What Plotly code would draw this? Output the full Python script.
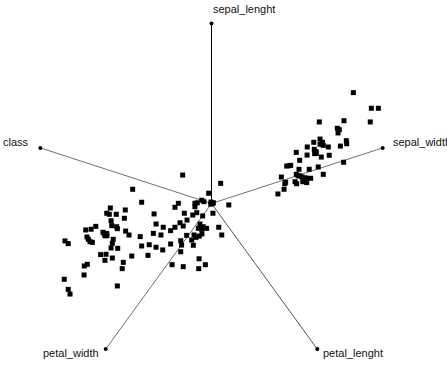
import math
import plotly.graph_objects as go

# Dimension anchors (RadViz) — names and angles in degrees, unit radius
anchor_names = ["sepal_lenght", "sepal_width", "petal_lenght", "petal_width", "class"]
anchor_angles = [90, 18, -54, -126, 162]

# Projected sample positions (RadViz coordinates, unit radius)
points_x = [
    0.788, 0.888, 0.927, 0.882, 0.599, 0.736, 0.699, 0.710, 0.703, 0.749,
    0.751, 0.716, 0.568, 0.603, 0.616, 0.621, 0.603, 0.532, 0.571, 0.581,
    0.582, 0.573, 0.649, 0.654, 0.610, 0.531, 0.471, 0.490, 0.418, 0.431,
    0.440, 0.734, 0.486, 0.543, 0.593, 0.471, 0.481, 0.492, 0.503, 0.518,
    0.532, 0.551, 0.621, 0.388, 0.412, 0.407, 0.464, 0.473, 0.507, 0.529,
    0.403, 0.369,
    -0.438, -0.388, -0.562, -0.582, -0.568, -0.529, -0.479, -0.484, -0.558, -0.554,
    -0.527, -0.523, -0.643, -0.669, -0.699, -0.603, -0.596, -0.588, -0.581, -0.592,
    -0.582, -0.477, -0.458, -0.692, -0.684, -0.675, -0.662, -0.546, -0.551, -0.396,
    -0.814, -0.796, -0.388, -0.558, -0.521, -0.616, -0.586, -0.592, -0.551, -0.443,
    -0.490, -0.690, -0.707, -0.496, -0.708, -0.818, -0.523, -0.796, -0.786,
    -0.160, 0.051, -0.016, -0.054, -0.042, -0.092, -0.079, -0.003, 0.010, -0.004,
    0.007, 0.096, -0.184, -0.203, -0.092, 0.008, -0.151, -0.104, -0.082, -0.319,
    -0.049, -0.136, -0.175, -0.157, -0.064, -0.046, -0.027, -0.054, -0.073, -0.308,
    0.040, -0.203, -0.227, -0.268, 0.057, -0.138, -0.097, -0.068, -0.053, -0.086,
    -0.110, -0.323, -0.281, -0.171, -0.227, -0.346, -0.308, -0.271, -0.166, -0.171,
    -0.101, -0.353, -0.069, -0.219, -0.157, -0.071, -0.034,
]
points_y = [
    0.616, 0.529, 0.529, 0.453, 0.453, 0.460, 0.418, 0.410, 0.392, 0.349,
    0.332, 0.319, 0.340, 0.358, 0.340, 0.323, 0.329, 0.314, 0.301, 0.288,
    0.279, 0.277, 0.314, 0.268, 0.258, 0.269, 0.284, 0.240, 0.208, 0.210,
    0.212, 0.229, 0.190, 0.190, 0.203, 0.162, 0.154, 0.153, 0.147, 0.143,
    0.140, 0.140, 0.162, 0.147, 0.118, 0.110, 0.121, 0.110, 0.121, 0.116,
    0.079, 0.053,
    0.079, 0.007, -0.025, -0.054, -0.060, -0.060, -0.036, -0.082, -0.096, -0.123,
    -0.129, -0.140, -0.127, -0.143, -0.147, -0.160, -0.168, -0.175, -0.179, -0.179,
    -0.166, -0.153, -0.175, -0.186, -0.199, -0.212, -0.216, -0.199, -0.221, -0.184,
    -0.208, -0.223, -0.236, -0.247, -0.249, -0.284, -0.282, -0.316, -0.303, -0.292,
    -0.327, -0.338, -0.347, -0.362, -0.397, -0.421, -0.458, -0.477, -0.503,
    0.158, 0.112, 0.057, 0.018, 0.010, 0.001, 0.004, 0.008, 0.004, -0.004,
    0.001, -0.008, 0.001, -0.021, -0.018, -0.054, -0.054, -0.064, -0.051, -0.058,
    -0.069, -0.092, -0.107, -0.125, -0.114, -0.129, -0.138, -0.143, -0.138, -0.114,
    -0.132, -0.132, -0.151, -0.132, -0.175, -0.177, -0.175, -0.181, -0.169, -0.188,
    -0.203, -0.166, -0.175, -0.207, -0.225, -0.229, -0.243, -0.258, -0.231, -0.268,
    -0.232, -0.288, -0.307, -0.340, -0.351, -0.362, -0.340,
]

axis_colors = ["#000000", "#707070", "#555555", "#707070", "#707070"]
label_pos = {
    "sepal_lenght": dict(xanchor="left", yanchor="middle", xshift=-1, yshift=15),
    "sepal_width": dict(xanchor="left", yanchor="middle", xshift=8, yshift=6),
    "petal_lenght": dict(xanchor="left", yanchor="middle", xshift=4, yshift=-4),
    "petal_width": dict(xanchor="right", yanchor="middle", xshift=-5, yshift=-4),
    "class": dict(xanchor="right", yanchor="middle", xshift=-9, yshift=6),
}

fig = go.Figure()
ax_x = [math.cos(math.radians(a)) for a in anchor_angles]
ax_y = [math.sin(math.radians(a)) for a in anchor_angles]

for name, x, y, c in zip(anchor_names, ax_x, ax_y, axis_colors):
    fig.add_trace(go.Scatter(x=[0, x], y=[0, y], mode="lines",
                             line=dict(color=c, width=1), hoverinfo="skip",
                             showlegend=False))

fig.add_trace(go.Scatter(x=points_x, y=points_y, mode="markers",
                         marker=dict(symbol="square", size=5, color="#000000",
                                     line=dict(width=0)),
                         showlegend=False))

fig.add_trace(go.Scatter(x=ax_x, y=ax_y, mode="markers",
                         marker=dict(symbol="circle", size=4, color="#000000"),
                         showlegend=False))

for name, x, y in zip(anchor_names, ax_x, ax_y):
    fig.add_annotation(x=x, y=y, text=name, showarrow=False,
                       font=dict(family="Liberation Sans, Arial, sans-serif",
                                 size=11, color="#111111"),
                       **label_pos[name])

R = 180.0  # pixels per unit radius
cx, cy = 211.5, 203.5
fig.update_layout(
    width=447, height=365, autosize=False,
    margin=dict(l=0, r=0, t=0, b=0),
    paper_bgcolor="white", plot_bgcolor="white",
    xaxis=dict(range=[-cx / R, (447 - cx) / R], visible=False, fixedrange=True),
    yaxis=dict(range=[-(365 - cy) / R, cy / R], visible=False, fixedrange=True),
)

fig.write_html("out.html", post_script="document.body.style.margin='0';",
               config={"displayModeBar": False})
